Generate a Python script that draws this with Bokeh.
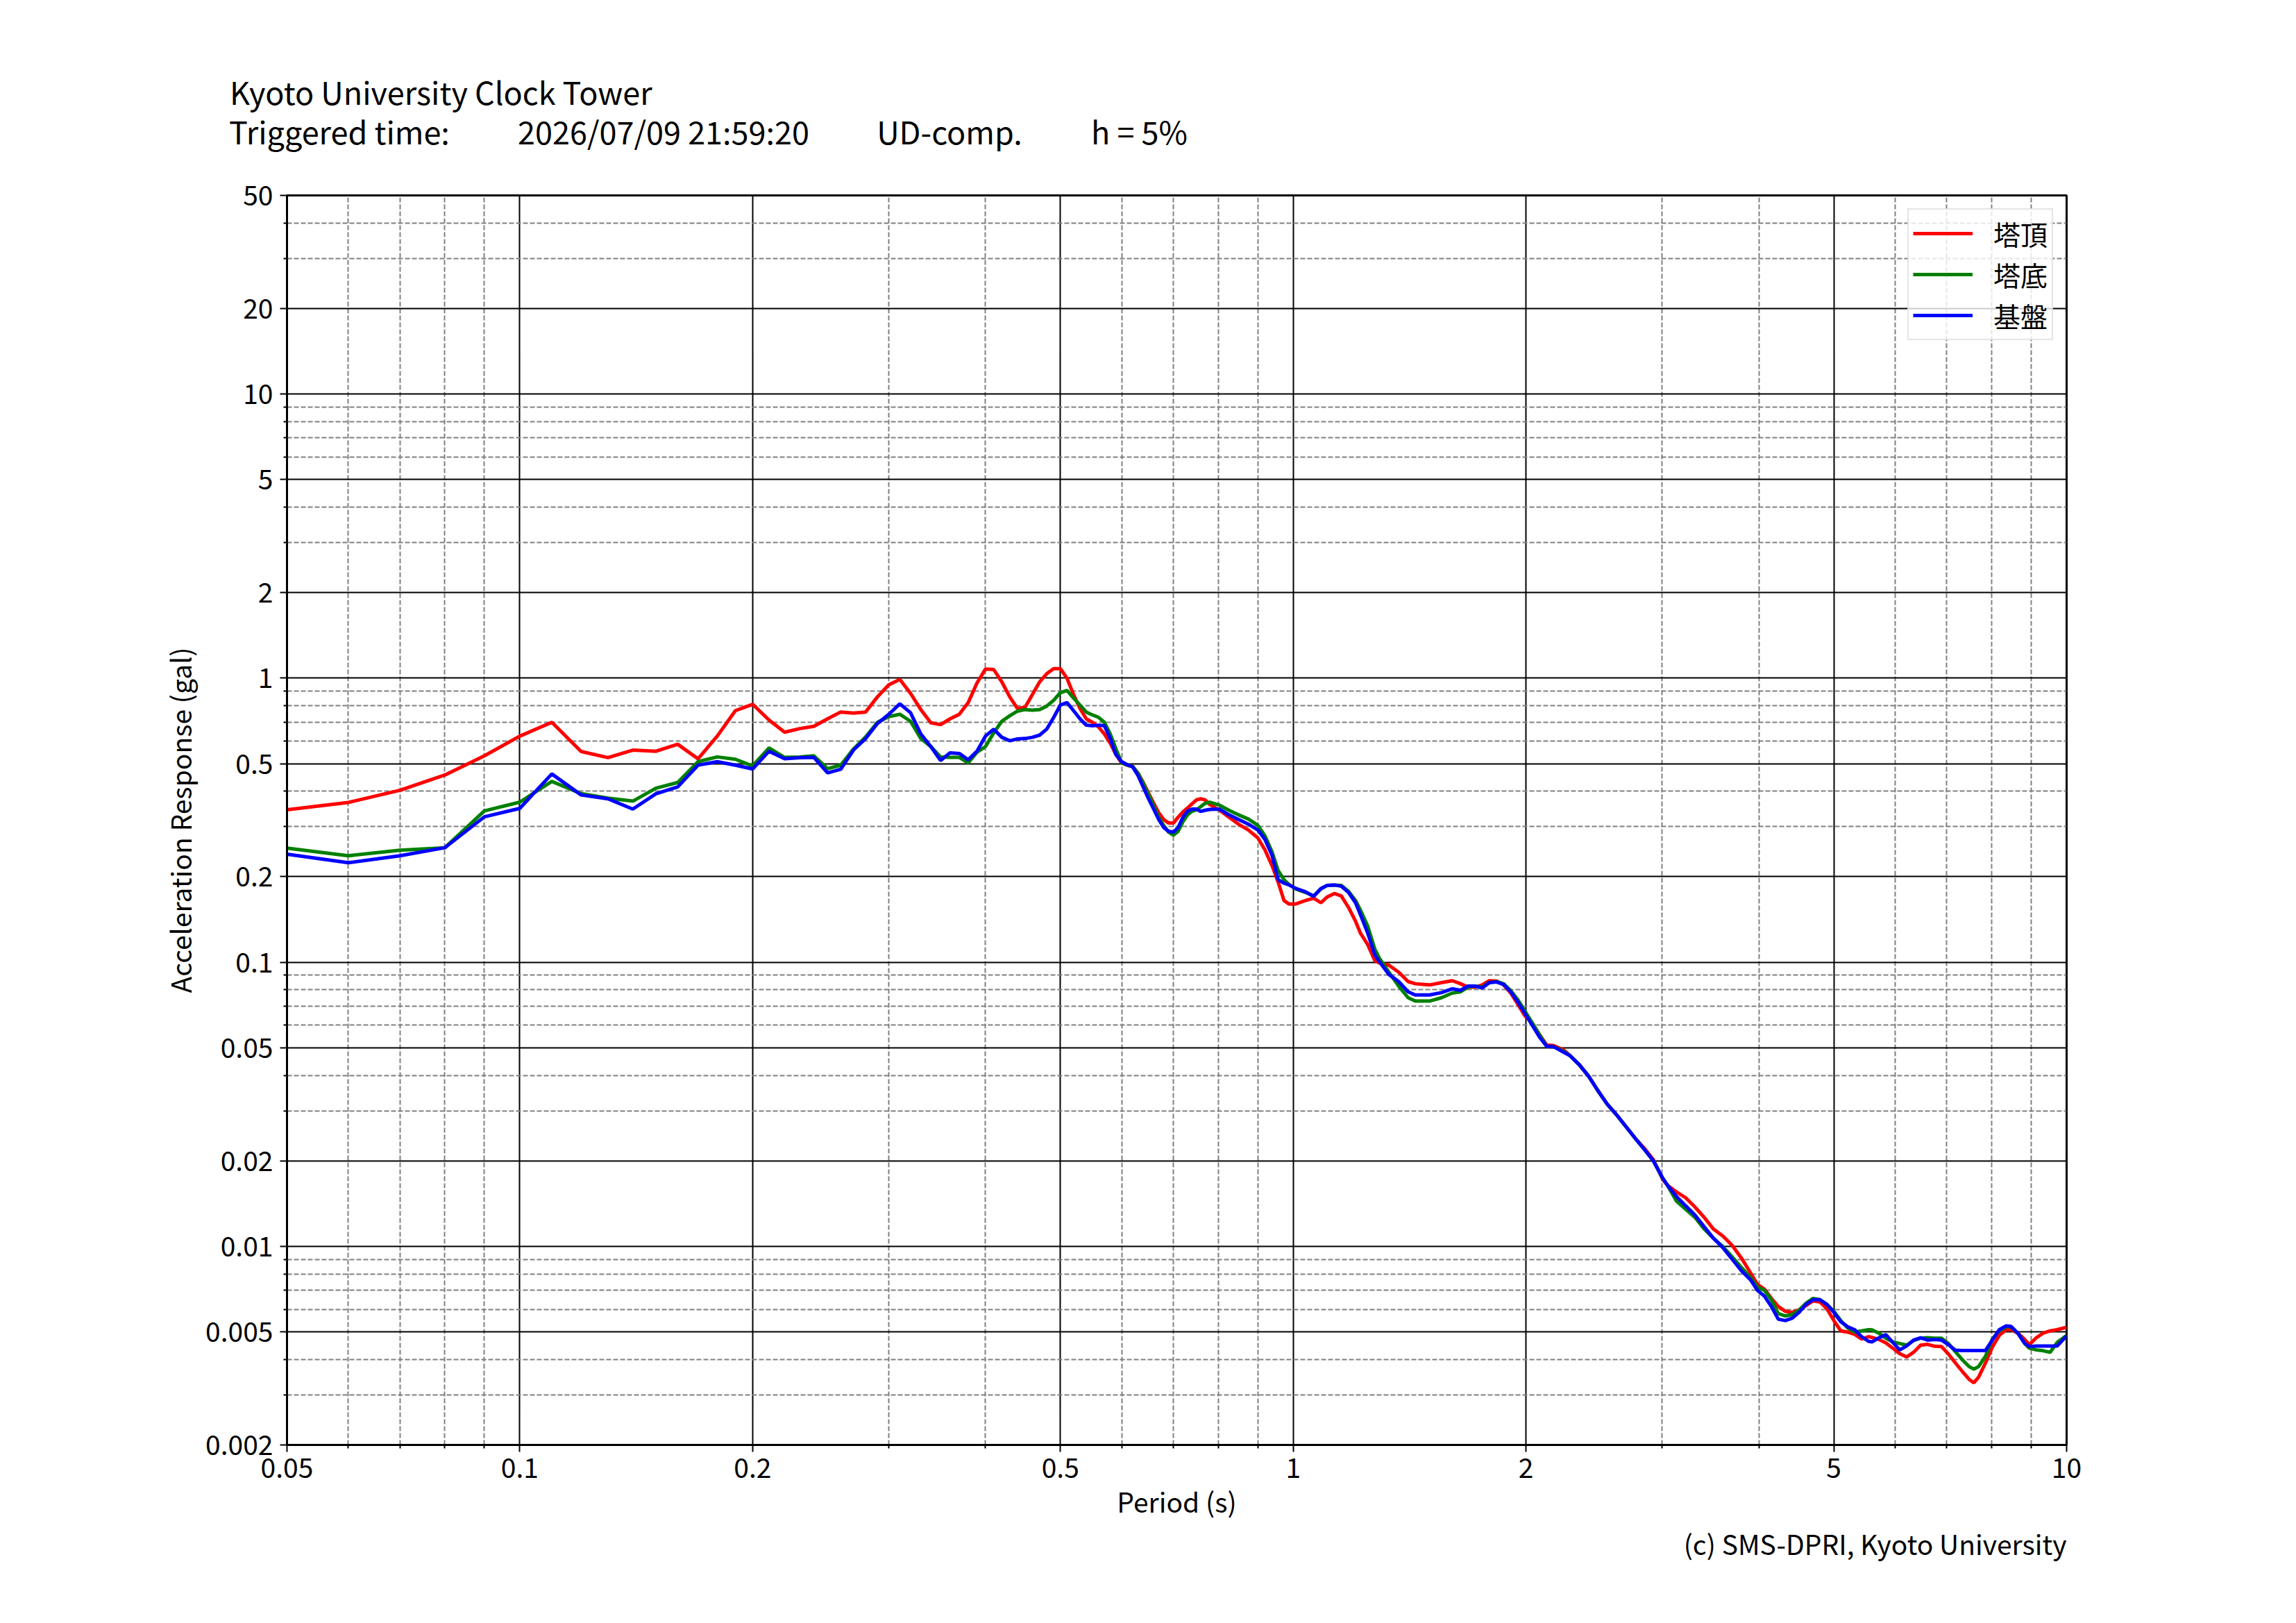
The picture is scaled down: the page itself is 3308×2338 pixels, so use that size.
from bokeh.plotting import figure
from bokeh.models import (Range1d, FixedTicker, Legend, LegendItem, ColumnDataSource, Title,
                          LinearAxis, LinearScale)
from bokeh.embed import file_html
from bokeh.resources import INLINE

FONT = "Noto Sans CJK JP"

# ---------------- data ----------------
periods = [
    0.05, 0.06, 0.07, 0.08, 0.09, 0.10, 0.11, 0.12, 0.13, 0.14, 0.15, 0.16, 0.17, 0.18, 0.19, 0.20,
    0.21, 0.22, 0.23, 0.24, 0.25, 0.26, 0.27, 0.28, 0.29, 0.30, 0.31, 0.32, 0.33, 0.34, 0.35, 0.36,
    0.37, 0.38, 0.39, 0.40, 0.41, 0.42, 0.43, 0.44, 0.45, 0.46, 0.47, 0.48, 0.49, 0.50, 0.51, 0.52,
    0.53, 0.54, 0.55, 0.56, 0.57, 0.58, 0.59, 0.60, 0.61, 0.62, 0.63, 0.64, 0.65, 0.66, 0.67, 0.68,
    0.69, 0.70, 0.71, 0.72, 0.73, 0.74, 0.75,
    0.759, 0.769, 0.780, 0.803, 0.826, 0.850, 0.875, 0.900, 0.919, 0.939, 0.956, 0.973, 0.987, 1.008,
    1.037, 1.063, 1.086, 1.106, 1.130, 1.154, 1.179, 1.204, 1.221, 1.248, 1.275, 1.293, 1.330, 1.369,
    1.408, 1.438, 1.501, 1.555, 1.606, 1.646, 1.682, 1.718, 1.755, 1.793, 1.832, 1.871, 1.911, 1.953,
    1.995, 2.038, 2.082, 2.127, 2.172, 2.235,
    2.280, 2.344, 2.410, 2.476, 2.546, 2.617, 2.690, 2.765, 2.842, 2.922, 3.004, 3.046, 3.131, 3.218,
    3.308, 3.400, 3.495, 3.593, 3.693, 3.797, 3.903, 3.984, 4.067, 4.152, 4.239, 4.327, 4.418, 4.510,
    4.604, 4.700, 4.798, 4.898, 5.001, 5.105, 5.212, 5.321, 5.432, 5.545,
    5.602, 5.719, 5.839, 5.961, 6.085, 6.212, 6.342, 6.475, 6.609, 6.749, 6.890, 7.034, 7.180, 7.330,
    7.483, 7.587, 7.692, 7.853, 8.017, 8.184, 8.355, 8.471, 8.648, 8.829, 8.951, 9.138, 9.329, 9.523,
    9.722, 10.0,
]

tower_top = [
    0.344, 0.365, 0.403, 0.456, 0.533, 0.625, 0.699, 0.552, 0.525, 0.558, 0.553, 0.585, 0.520, 0.625,
    0.768, 0.809, 0.712, 0.645, 0.664, 0.677, 0.719, 0.760, 0.753, 0.760, 0.859, 0.947, 0.989,
    0.884, 0.775, 0.696, 0.686, 0.719, 0.746, 0.820, 0.961, 1.076, 1.072, 0.970, 0.859, 0.782, 0.789,
    0.875, 0.970, 1.036, 1.080, 1.080, 0.998, 0.875, 0.782, 0.719, 0.699, 0.673, 0.636, 0.590, 0.538,
    0.503, 0.494, 0.489, 0.463, 0.429, 0.394, 0.363, 0.336, 0.318, 0.309, 0.309, 0.324, 0.338, 0.349,
    0.361, 0.373,
    0.376, 0.373, 0.359, 0.343, 0.324, 0.306, 0.292, 0.274, 0.249, 0.2185, 0.1916, 0.1649, 0.1604,
    0.1604, 0.1649, 0.168, 0.1619, 0.1696, 0.1745, 0.1712, 0.1559, 0.1394, 0.1269, 0.1155, 0.1013,
    0.0994, 0.0976, 0.0922, 0.0855, 0.0840, 0.0832, 0.0848, 0.0861, 0.0840, 0.0817, 0.0817, 0.0832,
    0.0861, 0.0859, 0.0832, 0.0779, 0.0709, 0.0646, 0.0611, 0.0556, 0.0511, 0.0509, 0.0492,
    0.0469, 0.04355, 0.0397, 0.0354, 0.0317, 0.0291, 0.0265, 0.0241, 0.0222, 0.0202, 0.01722, 0.01643,
    0.01553, 0.01482, 0.01375, 0.01264, 0.0115, 0.01087, 0.01009, 0.0091, 0.00806, 0.00734, 0.00707,
    0.00656, 0.00614, 0.00591, 0.00586, 0.00597, 0.00619, 0.00643, 0.00637, 0.00603, 0.00548, 0.00504,
    0.00499, 0.0049, 0.00472, 0.00481,
    0.00478, 0.00470, 0.00457, 0.00438, 0.00419, 0.00408, 0.00424, 0.00449, 0.00452, 0.00445, 0.00444,
    0.00418, 0.00389, 0.00363, 0.00340, 0.00331, 0.00346, 0.00388, 0.00442, 0.00486, 0.00509, 0.00510,
    0.00495, 0.00470, 0.00451, 0.00477, 0.00495, 0.00504, 0.00509, 0.00519,
]

tower_base = [
    0.252, 0.237, 0.248, 0.253, 0.341, 0.366, 0.433, 0.392, 0.378, 0.369, 0.410, 0.429, 0.508, 0.528,
    0.518, 0.491, 0.568, 0.526, 0.528, 0.533, 0.480, 0.494, 0.563, 0.621, 0.699, 0.732, 0.746,
    0.705, 0.613, 0.574, 0.528, 0.526, 0.526, 0.503, 0.548, 0.574, 0.642, 0.705, 0.737, 0.765, 0.775,
    0.771, 0.775, 0.797, 0.835, 0.889, 0.905, 0.851, 0.804, 0.760, 0.742, 0.728, 0.699, 0.636, 0.563,
    0.503, 0.494, 0.489, 0.463, 0.425, 0.389, 0.356, 0.324, 0.303, 0.287, 0.280, 0.289, 0.312, 0.330,
    0.340, 0.344,
    0.3524, 0.3624, 0.3659, 0.3570, 0.3427, 0.3301, 0.3192, 0.3034, 0.2788, 0.2445, 0.2104, 0.1952,
    0.1880, 0.1811, 0.1761, 0.1712, 0.1811, 0.1863, 0.1870, 0.1863, 0.1777, 0.1649, 0.1530, 0.1342,
    0.1112, 0.1032, 0.0922, 0.0824, 0.0750, 0.0730, 0.0730, 0.0750, 0.0779, 0.0787, 0.0817, 0.0824,
    0.0817, 0.0848, 0.0855, 0.0840, 0.0794, 0.0736, 0.0671, 0.0611, 0.0556, 0.0506, 0.0504, 0.0487,
    0.0469, 0.04355, 0.0397, 0.0354, 0.0317, 0.0291, 0.0265, 0.0241, 0.0220, 0.0200, 0.01738, 0.01643,
    0.01441, 0.01349, 0.01264, 0.0115, 0.01067, 0.00999, 0.00919, 0.00844, 0.00776, 0.0072, 0.0070,
    0.00649, 0.0058, 0.00569, 0.00575, 0.00597, 0.00631, 0.00656, 0.00649, 0.00625, 0.00591, 0.00548,
    0.00516, 0.00499, 0.00504, 0.00509,
    0.00508, 0.00495, 0.00475, 0.00461, 0.00455, 0.00449, 0.00466, 0.00475, 0.00477, 0.00475, 0.00475,
    0.00455, 0.00426, 0.00399, 0.00377, 0.00370, 0.00377, 0.00410, 0.00472, 0.00504, 0.00521, 0.00521,
    0.00495, 0.00455, 0.00438, 0.00432, 0.00429, 0.00424, 0.00459, 0.00486,
]

bedrock = [
    0.240, 0.224, 0.237, 0.253, 0.325, 0.348, 0.460, 0.388, 0.376, 0.346, 0.392, 0.414, 0.494, 0.508,
    0.494, 0.479, 0.553, 0.520, 0.525, 0.526, 0.464, 0.478, 0.558, 0.613, 0.692, 0.746, 0.812,
    0.756, 0.636, 0.574, 0.513, 0.546, 0.543, 0.516, 0.553, 0.625, 0.661, 0.619, 0.602, 0.611, 0.613,
    0.619, 0.630, 0.661, 0.726, 0.804, 0.820, 0.768, 0.719, 0.683, 0.680, 0.683, 0.680, 0.613, 0.538,
    0.508, 0.496, 0.487, 0.454, 0.413, 0.376, 0.346, 0.318, 0.298, 0.289, 0.287, 0.298, 0.324, 0.340,
    0.346, 0.346,
    0.3395, 0.3427, 0.3452, 0.3459, 0.3301, 0.3180, 0.3062, 0.2922, 0.2711, 0.2377, 0.1952, 0.1898,
    0.1873, 0.1818, 0.1770, 0.1706, 0.1818, 0.1863, 0.1870, 0.1852, 0.1761, 0.1619, 0.1474, 0.1269,
    0.1061, 0.1003, 0.0905, 0.0855, 0.0787, 0.0767, 0.0767, 0.0782, 0.0806, 0.0797, 0.0824, 0.0824,
    0.0812, 0.0848, 0.0852, 0.0835, 0.0787, 0.0723, 0.0658, 0.0599, 0.0545, 0.0506, 0.0504, 0.0483,
    0.0469, 0.04355, 0.0397, 0.0354, 0.0317, 0.0291, 0.0265, 0.0241, 0.0220, 0.0200, 0.01738, 0.01643,
    0.01496, 0.01388, 0.01288, 0.01172, 0.01067, 0.0099, 0.00902, 0.00821, 0.00762, 0.0070, 0.00668,
    0.00614, 0.00554, 0.00548, 0.00559, 0.00586, 0.00625, 0.00649, 0.00649, 0.00625, 0.00586, 0.00543,
    0.00521, 0.00509, 0.00481, 0.00463,
    0.00461, 0.004765, 0.00489, 0.00459, 0.00432, 0.00446, 0.00468, 0.004765, 0.00468, 0.00470, 0.00468,
    0.004505, 0.00431, 0.00430, 0.00430, 0.00430, 0.00430, 0.00430, 0.00468, 0.00509, 0.00525, 0.00523,
    0.00495, 0.00455, 0.00444, 0.00446, 0.00446, 0.00446, 0.00446, 0.00484,
]

series_keys = ["top", "base", "rock"]
series_names = ["塔頂", "塔底", "基盤"]
series_colors = ["#ff0000", "#008000", "#0000ff"]

x_major = [0.05, 0.1, 0.2, 0.5, 1, 2, 5, 10]
x_major_labels = ["0.05", "0.1", "0.2", "0.5", "1", "2", "5", "10"]
x_minor = [0.06, 0.07, 0.08, 0.09, 0.3, 0.4, 0.6, 0.7, 0.8, 0.9, 3, 4, 6, 7, 8, 9]
y_major = [0.002, 0.005, 0.01, 0.02, 0.05, 0.1, 0.2, 0.5, 1, 2, 5, 10, 20, 50]
y_major_labels = ["0.002", "0.005", "0.01", "0.02", "0.05", "0.1", "0.2", "0.5",
                  "1", "2", "5", "10", "20", "50"]
y_minor = [0.003, 0.004, 0.006, 0.007, 0.008, 0.009, 0.03, 0.04, 0.06, 0.07, 0.08, 0.09,
           0.3, 0.4, 0.6, 0.7, 0.8, 0.9, 3, 4, 6, 7, 8, 9, 30, 40]

title_line1 = ["Kyoto University Clock Tower"]
title_line2 = ["Triggered time:", "2026/07/09 21:59:20", "UD-comp.", "h = 5%"]
credit = "(c) SMS-DPRI, Kyoto University"
x_title = "Period (s)"
y_title = "Acceleration Response (gal)"

# ---------------- layout constants (pixels) ----------------
W, H = 3290, 2320
FRAME_L, FRAME_T, FRAME_W, FRAME_H = 413, 281, 2564, 1800
# horizontal centres of the header texts, in pixels from the frame's left edge
line1_centres = [221.75]
line2_centres = [75.5, 542.5, 954.5, 1228.0]

p = figure(width=W, height=H, output_backend="svg", toolbar_location=None,
           x_axis_type="log", y_axis_type="log",
           x_range=Range1d(0.05, 10), y_range=Range1d(0.002, 50),
           min_border_left=FRAME_L, min_border_right=W - FRAME_L - FRAME_W,
           min_border_top=FRAME_T, min_border_bottom=H - FRAME_T - FRAME_H)
p.background_fill_color = "white"
p.border_fill_color = "white"
p.outline_line_color = "black"
p.outline_line_width = 3

xt = FixedTicker(ticks=x_major, minor_ticks=x_minor)
yt = FixedTicker(ticks=y_major, minor_ticks=y_minor)
p.xaxis.ticker = xt
p.yaxis.ticker = yt
p.xgrid.ticker = xt
p.ygrid.ticker = yt
p.xaxis.major_label_overrides = dict(zip(x_major, x_major_labels))
p.yaxis.major_label_overrides = dict(zip(y_major, y_major_labels))

for g in (p.xgrid, p.ygrid):
    g.grid_line_color = "black"
    g.grid_line_width = 2
    g.minor_grid_line_color = "#808080"
    g.minor_grid_line_width = 2
    g.minor_grid_line_dash = "7 3"

for ax in (p.xaxis, p.yaxis):
    ax.axis_line_color = "black"
    ax.axis_line_width = 3
    ax.major_tick_line_color = "black"
    ax.major_tick_line_width = 2
    ax.minor_tick_line_color = "black"
    ax.minor_tick_line_width = 2
    ax.major_tick_in = 0
    ax.major_tick_out = 10
    ax.minor_tick_in = 0
    ax.minor_tick_out = 5
    ax.major_label_text_font = FONT
    ax.major_label_text_font_size = "39px"
    ax.major_label_text_color = "black"
    ax.axis_label_text_font = FONT
    ax.axis_label_text_font_size = "39px"
    ax.axis_label_text_font_style = "normal"
    ax.axis_label_text_color = "black"

p.xaxis.axis_label = x_title
p.yaxis.axis_label = y_title
p.xaxis.major_label_standoff = 8
p.yaxis.major_label_standoff = 10
p.xaxis.axis_label_standoff = 2
p.yaxis.axis_label_standoff = 6

src = ColumnDataSource(dict(period=periods, top=tower_top, base=tower_base, rock=bedrock))
items = []
for key, name, col in zip(series_keys, series_names, series_colors):
    r = p.line("period", key, source=src, line_color=col, line_width=5)
    items.append(LegendItem(label=name, renderers=[r]))

legend = Legend(items=items, location="top_right")
legend.margin = 19
legend.padding = 6
legend.spacing = 3
legend.label_standoff = 30
legend.glyph_width = 86
legend.glyph_height = 40
legend.label_height = 40
legend.label_text_font = FONT
legend.label_text_font_size = "39px"
legend.label_text_color = "black"
legend.border_line_color = "#cccccc"
legend.border_line_width = 2
legend.background_fill_alpha = 0.8
p.add_layout(legend)

# credit line under the x axis
p.add_layout(Title(text=credit, align="right", text_font=FONT, text_font_size="39px",
                   text_font_style="normal", text_color="black", standoff=0), "below")

# header lines: label-only axes above the frame, on a linear pixel range across the frame
p.extra_x_ranges = {"hdr": Range1d(0, FRAME_W)}
p.extra_x_scales = {"hdr": LinearScale()}


def header_axis(centres, texts, standoff):
    a = LinearAxis(x_range_name="hdr", ticker=FixedTicker(ticks=centres),
                   major_label_overrides=dict(zip(centres, texts)))
    a.axis_line_color = None
    a.major_tick_line_color = None
    a.minor_tick_line_color = None
    a.major_tick_in = 0
    a.major_tick_out = 0
    a.minor_tick_in = 0
    a.minor_tick_out = 0
    a.major_label_standoff = standoff
    a.major_label_text_font = FONT
    a.major_label_text_font_size = "45px"
    a.major_label_text_color = "black"
    return a


p.add_layout(header_axis(line2_centres, title_line2, 61), "above")
p.add_layout(header_axis(line1_centres, title_line1, -11), "above")

open("out.html", "w").write(file_html(p, INLINE))
